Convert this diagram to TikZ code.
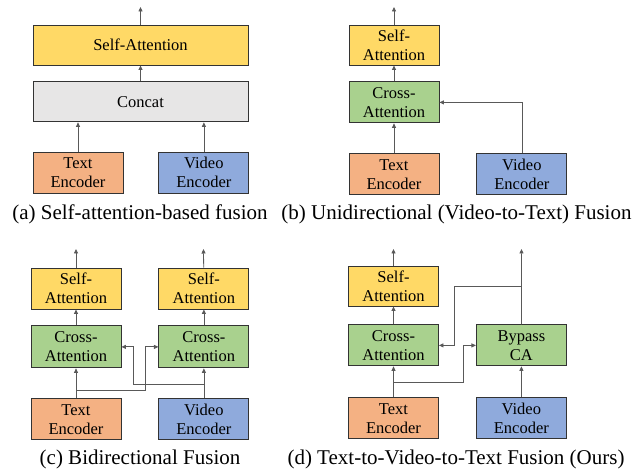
\documentclass[tikz,border=0pt]{standalone}
\usepackage{fontspec}
\setmainfont{Liberation Serif}
\usetikzlibrary{arrows.meta, positioning, calc}

\definecolor{saYellow}{HTML}{FFD966}
\definecolor{catGrey}{HTML}{E7E6E6}
\definecolor{txtOrange}{HTML}{F4B183}
\definecolor{vidBlue}{HTML}{8FAADC}
\definecolor{caGreen}{HTML}{A9D18E}

\begin{document}
\begin{tikzpicture}[x=1pt, y=-1pt,
    block/.style={draw=black!80, line width=0.9pt, minimum width=90pt, minimum height=41pt, align=center, inner sep=1pt, font=\fontsize{16.5}{19}\selectfont},
    thinarrow/.style={-{Triangle[length=4.5pt,width=4pt]}, draw=black!65, line width=0.8pt},
    caption/.style={font=\fontsize{21}{24}\selectfont}
]
    \useasboundingbox (0,0) rectangle (641,470);

    % (a) concat + self-attention
    \node[block, fill=saYellow, minimum width=215pt, minimum height=40pt] at (140.5,45) (saA) {Self-Attention};
    \node[block, fill=catGrey, minimum width=215pt, minimum height=40pt, below=16pt of saA] (catA) {Concat};
    \node[block, fill=txtOrange] at (78,172.5) (txtA) {Text\\Encoder};
    \node[block, fill=vidBlue, right=35pt of txtA] (vidA) {Video\\Encoder};
    \coordinate (outA) at (140.5,7);

    \draw[thinarrow] (txtA) -- (txtA |- catA.south);
    \draw[thinarrow] (vidA) -- (vidA |- catA.south);
    \draw[thinarrow] (catA) -- (saA);
    \draw[thinarrow] (saA) -- (outA);
    \node[caption] at (140,214) (capA) {(a) Self-attention-based fusion};

    % (b) video-to-text cross-attention
    \node[block, fill=saYellow, minimum height=40pt] at (394,45) (saB) {Self-\\Attention};
    \node[block, fill=caGreen, below=16pt of saB] (caB) {Cross-\\Attention};
    \node[block, fill=txtOrange, below=30pt of caB] (txtB) {Text\\Encoder};
    \node[block, fill=vidBlue, right=37pt of txtB] (vidB) {Video\\Encoder};
    \coordinate (outB) at (394,7);

    \draw[thinarrow] (txtB) -- (caB);
    \draw[thinarrow] (vidB) |- (caB);
    \draw[thinarrow] (caB) -- (saB);
    \draw[thinarrow] (saB) -- (outB);
    \node[caption] at (456.5,214) (capB) {(b) Unidirectional (Video-to-Text) Fusion};

    % (c) two cross-attention streams
    \node[block, fill=saYellow] at (76,288.5) (saC1) {Self-\\Attention};
    \node[block, fill=caGreen, minimum height=42pt, below=16pt of saC1] (caC1) {Cross-\\Attention};
    \node[block, fill=txtOrange, below=30pt of caC1] (txtC) {Text\\Encoder};
    \node[block, fill=saYellow, right=37pt of saC1] (saC2) {Self-\\Attention};
    \node[block, fill=caGreen, minimum height=42pt, below=16pt of saC2] (caC2) {Cross-\\Attention};
    \node[block, fill=vidBlue, below=30pt of caC2] (vidC) {Video\\Encoder};
    \coordinate (outC1) at (76,249);
    \coordinate (outC2) at (203.5,249);

    \draw[thinarrow] (txtC) -- (caC1);
    \draw[thinarrow] (vidC) -- (caC2);
    \draw[thinarrow] (caC1) -- (saC1);
    \draw[thinarrow] (caC2) -- (saC2);
    \draw[thinarrow] (saC1) -- (outC1);
    \draw[thinarrow] (saC2) -- (outC2);

    % crossing branches
    \coordinate (tjC) at (txtC.north |- 0,390);
    \coordinate (tkC) at (145,390);
    \coordinate (vjC) at (vidC.north |- 0,384);
    \coordinate (vkC) at (133,384);
    \draw[thinarrow] (tjC) -- (tkC) |- (caC2);
    \draw[thinarrow] (vjC) -- (vkC) |- (caC1);
    \node[caption] at (140,459) (capC) {(c) Bidirectional Fusion};

    % (d) text-to-video-to-text with bypass
    \node[block, fill=saYellow, minimum height=40pt] at (393.5,286) (saD) {Self-\\Attention};
    \node[block, fill=caGreen, below=18pt of saD] (caD) {Cross-\\Attention};
    \node[block, fill=txtOrange, below=31pt of caD] (txtD) {Text\\Encoder};
    \node[block, fill=caGreen, right=37pt of caD] (bcaD) {Bypass\\CA};
    \node[block, fill=vidBlue, below=31pt of bcaD] (vidD) {Video\\Encoder};
    \coordinate (outD1) at (393.5,249);
    \coordinate (outD2) at (521.5,249);

    \draw[thinarrow] (txtD) -- (caD);
    \draw[thinarrow] (vidD) -- (bcaD);
    \draw[thinarrow] (caD) -- (saD);
    \draw[thinarrow] (saD) -- (outD1);
    \draw[thinarrow] (bcaD) -- (outD2);

    \coordinate (tjD) at (txtD.north |- 0,382);
    \coordinate (tkD) at (463,382);
    \coordinate (bjD) at (bcaD.north |- 0,286);
    \coordinate (bkD) at (454,286);
    \draw[thinarrow] (tjD) -- (tkD) |- (bcaD);
    \draw[thinarrow] (bjD) -- (bkD) |- (caD);
    \node[caption] at (456,459) (capD) {(d) Text-to-Video-to-Text Fusion (Ours)};
\end{tikzpicture}
\end{document}
